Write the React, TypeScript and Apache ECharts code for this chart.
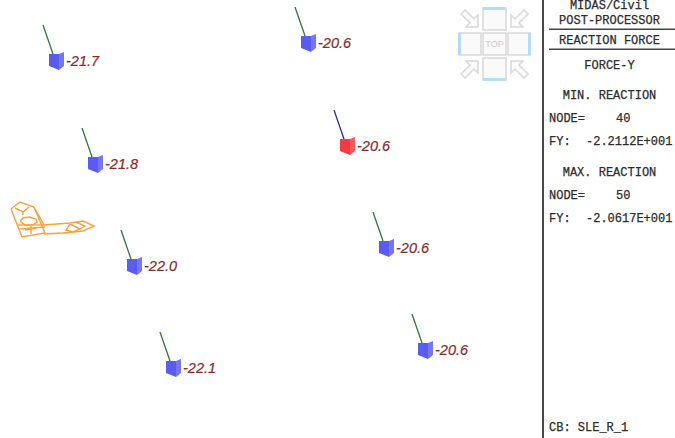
import React, { useEffect, useRef } from "react";
import * as echarts from "echarts";

const nodeX = [57, 96, 135, 174, 309, 348, 387, 426];
const nodeY = [61, 164, 266, 368, 43, 146, 248, 350];
const reactions = [-21.7, -21.8, -22.0, -22.1, -20.6, -20.6, -20.6, -20.6];
const highlighted = [false, false, false, false, false, true, false, false];

const panelCentered: [string, number][] = [
  ["MIDAS/Civil", 6],
  ["POST-PROCESSOR", 21],
  ["REACTION FORCE", 41],
  ["FORCE-Y", 66],
  ["MIN. REACTION", 96],
  ["MAX. REACTION", 173],
];
const panelLeft: [string, number, number][] = [
  ["NODE=", 549, 119],
  ["40", 616, 119],
  ["FY:", 549, 142],
  ["-2.2112E+001", 586, 142],
  ["NODE=", 549, 196],
  ["50", 616, 196],
  ["FY:", 549, 219],
  ["-2.0617E+001", 586, 219],
  ["CB: SLE_R_1", 549, 428],
];

const orangeLines: number[][][] = [
  [[11, 209], [20, 202], [34, 207], [45, 233], [22, 237], [11, 209]],
  [[18, 225], [44, 225]],
  [[20, 229], [45, 227]],
  [[34, 207], [44, 225], [70, 223], [83, 221], [94, 226], [83, 231], [63, 233], [44, 234]],
  [[15, 208], [23, 212], [29, 207]],
  [[23, 212], [23, 215]],
  [[25, 230], [36, 228]],
  [[31, 226], [31, 234]],
  [[20, 221], [23, 218], [29, 217], [36, 219], [37, 222], [33, 225], [25, 225], [20, 221]],
  [[70, 224], [80, 229], [73, 232], [66, 230], [70, 224]],
  [[76, 222], [85, 226], [80, 229]],
];

const GRAY = "#d8d8d8";
const BLUE = "#b5dcf5";

const arrow = (cx: number, cy: number, sx: number, sy: number) => ({
  type: "polygon",
  silent: true,
  shape: {
    points: [[8, 8], [8, -4], [4, 0], [-5, -9], [-9, -5], [0, 4], [-4, 8]].map(([px, py]) => [cx + px * sx, cy + py * sy]),
  },
  style: { fill: "#fbfbfb", stroke: GRAY, lineWidth: 1.5 },
});

const box = (x: number, y: number, w: number, h: number, edge: number[] | null) => {
  const out: any[] = [
    { type: "rect", silent: true, shape: { x, y, width: w, height: h }, style: { fill: "#fafafa", stroke: GRAY, lineWidth: 1.5 } },
  ];
  if (edge) {
    out.push({
      type: "rect",
      silent: true,
      shape: { x: edge[0], y: edge[1], width: edge[2], height: edge[3] },
      style: { fill: BLUE },
    });
  }
  return out;
};

const mono = "'Liberation Mono', monospace";
const panelStyle = { fill: "#2c2c2c", stroke: "#2c2c2c", lineWidth: 0.25, font: `12px ${mono}`, verticalAlign: "middle" };

export default function App() {
  const ref = useRef<HTMLDivElement>(null);
  useEffect(() => {
    document.body.style.margin = "0";
    const chart = echarts.init(ref.current!, undefined, { renderer: "svg" });
    const graphic: any[] = [
      ...orangeLines.map((pts) => ({
        type: "polyline",
        silent: true,
        shape: { points: pts },
        style: { fill: "none", stroke: "#f9a13f", lineWidth: 1.4 },
      })),
      ...box(483, 8, 23, 22, [483, 7, 23, 3]),
      ...box(459, 33, 22, 22, [458, 33, 3, 22]),
      ...box(508, 33, 22, 22, [528, 33, 3, 22]),
      ...box(483, 58, 23, 22, [483, 78, 23, 3]),
      ...box(483, 33, 23, 22, null),
      {
        type: "text",
        silent: true,
        x: 494.5,
        y: 44,
        style: { text: "TOP", fill: "#c8c8c8", font: "9px 'Liberation Sans'", align: "center", verticalAlign: "middle" },
      },
      arrow(470, 19, 1, 1),
      arrow(519, 19, -1, 1),
      arrow(470, 69, 1, -1),
      arrow(519, 69, -1, -1),
      { type: "rect", silent: true, shape: { x: 542, y: 0, width: 2, height: 438 }, style: { fill: "#4a4a4a" } },
      { type: "rect", silent: true, shape: { x: 549, y: 28.5, width: 126, height: 1.5 }, style: { fill: "#444" } },
      { type: "rect", silent: true, shape: { x: 549, y: 48.5, width: 126, height: 1.5 }, style: { fill: "#444" } },
      ...panelCentered.map(([text, y]) => ({
        type: "text",
        silent: true,
        x: 609.5,
        y,
        style: { ...panelStyle, text, align: "center" },
      })),
      ...panelLeft.map(([text, x, y]) => ({
        type: "text",
        silent: true,
        x,
        y,
        style: { ...panelStyle, text, align: "left" },
      })),
    ];

    chart.setOption({
      animation: false,
      backgroundColor: "#ffffff",
      grid: { left: 0, right: 0, top: 0, bottom: 0 },
      xAxis: { type: "value", min: 0, max: 675, show: false },
      yAxis: { type: "value", min: 0, max: 438, inverse: true, show: false },
      graphic,
      series: [
        {
          type: "custom",
          coordinateSystem: "cartesian2d",
          silent: true,
          data: nodeX.map((x, i) => [x, nodeY[i], reactions[i], highlighted[i] ? 1 : 0]),
          renderItem: (_p: any, api: any) => {
            const [cx, cy] = api.coord([api.value(0), api.value(1)]);
            const hot = api.value(3) === 1;
            const at = (pts: number[][]) => pts.map(([a, b]) => [cx + a, cy + b]);
            return {
              type: "group",
              children: [
                {
                  type: "line",
                  shape: { x1: cx - 14, y1: cy - 36, x2: cx - 4, y2: cy - 7 },
                  style: { stroke: hot ? "#2a2f9a" : "#2f7a3c", lineWidth: 1.3 },
                },
                {
                  type: "polygon",
                  shape: { points: at([[2, -7], [7, -9], [7, 5], [2, 9]]) },
                  style: { fill: hot ? "#f85a5c" : "#7476f2" },
                },
                {
                  type: "polygon",
                  shape: { points: at([[-8, -7], [2, -7], [2, 9], [-8, 5]]) },
                  style: { fill: hot ? "#f23c40" : "#5a5cf0" },
                },
                {
                  type: "text",
                  x: cx + 9,
                  y: cy,
                  style: {
                    text: api.value(2).toFixed(1),
                    fill: "#8a2a2a",
                    stroke: "#8a2a2a",
                    lineWidth: 0.2,
                    font: "italic 14.5px 'Liberation Sans'",
                    align: "left",
                    verticalAlign: "middle",
                  },
                },
              ],
            };
          },
        },
      ],
    });
    return () => chart.dispose();
  }, []);
  return <div ref={ref} style={{ width: 675, height: 438 }} />;
}
